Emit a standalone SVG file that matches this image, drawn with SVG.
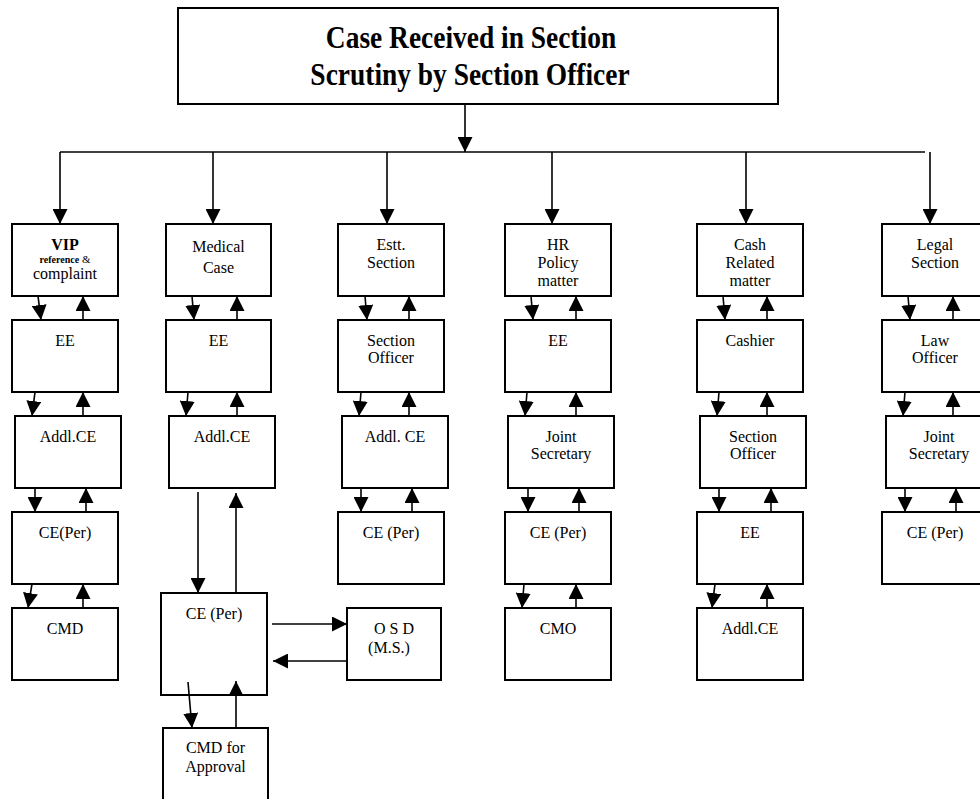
<svg xmlns="http://www.w3.org/2000/svg" width="980" height="799" viewBox="0 0 980 799">
<style>
.box{fill:none;stroke:#000;stroke-width:2}
.t{font-family:"Liberation Serif","Times New Roman",serif;font-size:16px;fill:#000;text-anchor:middle}
.title{font-family:"Liberation Serif","Times New Roman",serif;font-size:28px;font-weight:bold;fill:#000;text-anchor:middle}
.c{fill:none;stroke:#000;stroke-width:1.6}
.a{fill:none;stroke:#000;stroke-width:1.6;marker-end:url(#ah)}
</style>
<defs>
<marker id="ah" markerUnits="userSpaceOnUse" markerWidth="15" markerHeight="15" refX="15" refY="7.5" orient="auto">
<path d="M0,0 L15,7.5 L0,15 z" fill="#000"/>
</marker>
</defs>
<rect width="980" height="799" fill="#fff"/>

<g id="top">
<rect class="box" x="178" y="8" width="600" height="96"/>
<text class="title" transform="translate(471,48) scale(0.98,1.13)">Case Received in Section</text>
<text class="title" transform="translate(470,85) scale(0.98,1.13)">Scrutiny by Section Officer</text>
</g>

<!-- VIP column -->
<g id="vip">
<rect class="box" x="12" y="224" width="106" height="72"/>
<text class="t" x="65" y="250" font-weight="bold">VIP</text>
<text class="t" x="65" y="263"><tspan font-size="10" font-weight="bold">reference</tspan><tspan font-size="11"> &amp;</tspan></text>
<text class="t" x="65" y="279">complaint</text>
</g>
<g id="vip-ee"><rect class="box" x="12" y="320" width="106" height="72"/><text class="t" x="65" y="346">EE</text></g>
<g id="vip-addl"><rect class="box" x="15" y="416" width="106" height="72"/><text class="t" x="68" y="442">Addl.CE</text></g>
<g id="vip-ce"><rect class="box" x="12" y="512" width="106" height="72"/><text class="t" x="65" y="538">CE(Per)</text></g>
<g id="vip-cmd"><rect class="box" x="12" y="608" width="106" height="72"/><text class="t" x="65" y="634">CMD</text></g>

<!-- Medical column -->
<g id="medical">
<rect class="box" x="166" y="224" width="105" height="72"/>
<text class="t" x="218.5" y="252" font-size="18.5">Medical</text>
<text class="t" x="218.5" y="273" font-size="18.5">Case</text>
</g>
<g id="med-ee"><rect class="box" x="166" y="320" width="105" height="72"/><text class="t" x="218.5" y="346">EE</text></g>
<g id="med-addl"><rect class="box" x="169" y="416" width="106" height="72"/><text class="t" x="222" y="442">Addl.CE</text></g>
<g id="med-ce"><rect class="box" x="161" y="593" width="106" height="102"/><text class="t" x="214" y="619">CE (Per)</text></g>
<g id="osd"><rect class="box" x="347" y="608" width="94" height="72"/><text class="t" x="394" y="634">O S D</text><text class="t" x="389" y="653">(M.S.)</text></g>
<g id="cmd-approval"><rect class="box" x="163" y="728" width="105" height="80"/><text class="t" x="215.5" y="753">CMD for</text><text class="t" x="215.5" y="772">Approval</text></g>

<!-- Estt column -->
<g id="estt"><rect class="box" x="338" y="224" width="106" height="72"/><text class="t" x="391" y="250">Estt.</text><text class="t" x="391" y="268">Section</text></g>
<g id="estt-so"><rect class="box" x="338" y="320" width="106" height="72"/><text class="t" x="391" y="346">Section</text><text class="t" x="391" y="363">Officer</text></g>
<g id="estt-addl"><rect class="box" x="342" y="416" width="106" height="72"/><text class="t" x="395" y="442">Addl. CE</text></g>
<g id="estt-ce"><rect class="box" x="338" y="512" width="106" height="72"/><text class="t" x="391" y="538">CE (Per)</text></g>

<!-- HR column -->
<g id="hr"><rect class="box" x="505" y="224" width="106" height="72"/><text class="t" x="558" y="250">HR</text><text class="t" x="558" y="268">Policy</text><text class="t" x="558" y="286">matter</text></g>
<g id="hr-ee"><rect class="box" x="505" y="320" width="106" height="72"/><text class="t" x="558" y="346">EE</text></g>
<g id="hr-js"><rect class="box" x="508" y="416" width="106" height="72"/><text class="t" x="561" y="442">Joint</text><text class="t" x="561" y="459">Secretary</text></g>
<g id="hr-ce"><rect class="box" x="505" y="512" width="106" height="72"/><text class="t" x="558" y="538">CE (Per)</text></g>
<g id="hr-cmo"><rect class="box" x="505" y="608" width="106" height="72"/><text class="t" x="558" y="634">CMO</text></g>

<!-- Cash column -->
<g id="cash"><rect class="box" x="697" y="224" width="106" height="72"/><text class="t" x="750" y="250">Cash</text><text class="t" x="750" y="268">Related</text><text class="t" x="750" y="286">matter</text></g>
<g id="cash-cashier"><rect class="box" x="697" y="320" width="106" height="72"/><text class="t" x="750" y="346">Cashier</text></g>
<g id="cash-so"><rect class="box" x="700" y="416" width="106" height="72"/><text class="t" x="753" y="442">Section</text><text class="t" x="753" y="459">Officer</text></g>
<g id="cash-ee"><rect class="box" x="697" y="512" width="106" height="72"/><text class="t" x="750" y="538">EE</text></g>
<g id="cash-addl"><rect class="box" x="697" y="608" width="106" height="72"/><text class="t" x="750" y="634">Addl.CE</text></g>

<!-- Legal column -->
<g id="legal"><rect class="box" x="882" y="224" width="106" height="72"/><text class="t" x="935" y="250">Legal</text><text class="t" x="935" y="268">Section</text></g>
<g id="legal-lo"><rect class="box" x="882" y="320" width="106" height="72"/><text class="t" x="935" y="346">Law</text><text class="t" x="935" y="363">Officer</text></g>
<g id="legal-js"><rect class="box" x="886" y="416" width="106" height="72"/><text class="t" x="939" y="442">Joint</text><text class="t" x="939" y="459">Secretary</text></g>
<g id="legal-ce"><rect class="box" x="882" y="512" width="106" height="72"/><text class="t" x="935" y="538">CE (Per)</text></g>

<g id="connectors">
<line class="a" x1="465" y1="105" x2="465" y2="152"/>
<line class="c" x1="60" y1="152" x2="925" y2="152"/>
<line class="a" x1="60" y1="152" x2="60" y2="224"/>
<line class="a" x1="213" y1="152" x2="213" y2="224"/>
<line class="a" x1="387" y1="152" x2="387" y2="224"/>
<line class="a" x1="552" y1="152" x2="552" y2="224"/>
<line class="a" x1="746" y1="152" x2="746" y2="224"/>
<line class="a" x1="930" y1="152" x2="930" y2="224"/>
<!-- VIP -->
<line class="a" x1="38" y1="296" x2="41" y2="320"/>
<line class="a" x1="83" y1="320" x2="83" y2="296"/>
<line class="a" x1="35" y1="392" x2="32" y2="416"/>
<line class="a" x1="83" y1="416" x2="83" y2="392"/>
<line class="a" x1="35" y1="488" x2="35" y2="512"/>
<line class="a" x1="86" y1="512" x2="86" y2="488"/>
<line class="a" x1="32" y1="584" x2="28" y2="608"/>
<line class="a" x1="83" y1="608" x2="83" y2="584"/>
<!-- Medical -->
<line class="a" x1="192" y1="296" x2="194" y2="320"/>
<line class="a" x1="237" y1="320" x2="237" y2="296"/>
<line class="a" x1="188" y1="392" x2="186" y2="416"/>
<line class="a" x1="237" y1="416" x2="237" y2="392"/>
<line class="a" x1="198" y1="492" x2="198" y2="593"/>
<line class="a" x1="236" y1="593" x2="236" y2="493"/>
<line class="a" x1="272" y1="624" x2="347" y2="624"/>
<line class="a" x1="347" y1="661" x2="273" y2="661"/>
<line class="a" x1="188" y1="682" x2="192" y2="728"/>
<line class="a" x1="236" y1="728" x2="236" y2="681"/>
<!-- Estt -->
<line class="a" x1="365" y1="296" x2="367" y2="320"/>
<line class="a" x1="409" y1="320" x2="409" y2="296"/>
<line class="a" x1="361" y1="392" x2="359" y2="416"/>
<line class="a" x1="409" y1="416" x2="409" y2="392"/>
<line class="a" x1="361" y1="488" x2="361" y2="512"/>
<line class="a" x1="412" y1="512" x2="412" y2="488"/>
<!-- HR -->
<line class="a" x1="531" y1="296" x2="533" y2="320"/>
<line class="a" x1="576" y1="320" x2="576" y2="296"/>
<line class="a" x1="527" y1="392" x2="525" y2="416"/>
<line class="a" x1="576" y1="416" x2="576" y2="392"/>
<line class="a" x1="528" y1="488" x2="528" y2="512"/>
<line class="a" x1="579" y1="512" x2="579" y2="488"/>
<line class="a" x1="524" y1="584" x2="522" y2="608"/>
<line class="a" x1="576" y1="608" x2="576" y2="584"/>
<!-- Cash -->
<line class="a" x1="723" y1="296" x2="725" y2="320"/>
<line class="a" x1="767" y1="320" x2="767" y2="296"/>
<line class="a" x1="719" y1="392" x2="717" y2="416"/>
<line class="a" x1="767" y1="416" x2="767" y2="392"/>
<line class="a" x1="719" y1="488" x2="719" y2="512"/>
<line class="a" x1="771" y1="512" x2="771" y2="488"/>
<line class="a" x1="715" y1="584" x2="712" y2="608"/>
<line class="a" x1="767" y1="608" x2="767" y2="584"/>
<!-- Legal -->
<line class="a" x1="908" y1="296" x2="910" y2="320"/>
<line class="a" x1="953" y1="320" x2="953" y2="296"/>
<line class="a" x1="905" y1="392" x2="903" y2="416"/>
<line class="a" x1="953" y1="416" x2="953" y2="392"/>
<line class="a" x1="905" y1="488" x2="905" y2="512"/>
<line class="a" x1="956" y1="512" x2="956" y2="488"/>
</g>
</svg>
